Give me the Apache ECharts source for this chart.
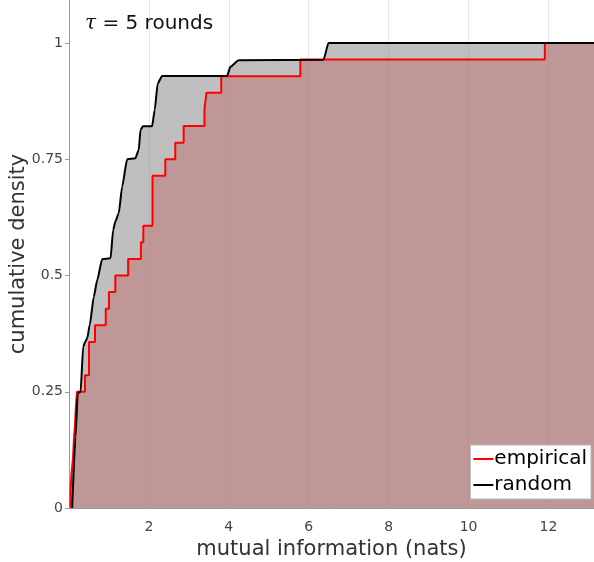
<!DOCTYPE html>
<html>
<head>
<meta charset="utf-8">
<script src="https://cdn.jsdelivr.net/npm/echarts@6/dist/echarts.min.js"></script>
<style>
  html, body { margin: 0; padding: 0; background: #fff; }
  #chart { width: 594px; height: 562px; }
</style>
</head>
<body>
<div id="chart"></div>
<script>
// observed mutual information values (one per pair), sorted
var empiricalMI = [0.04, 0.06, 0.10, 0.12, 0.15, 0.17, 0.20, 0.40, 0.50, 0.50,
    0.65, 0.92, 1.00, 1.16, 1.48, 1.80, 1.86, 2.09, 2.09, 2.09,
    2.41, 2.66, 2.87, 3.39, 3.44, 3.81, 5.79, 11.91];

// random baseline CDF
var randomX = [0.08, 0.163, 0.22, 0.29, 0.355, 0.41, 0.455, 0.52, 0.62, 0.705,
    0.83, 1.04, 1.105, 1.16, 1.245, 1.33, 1.455, 1.66, 1.745, 1.79,
    1.855, 2.08, 2.145, 2.22, 2.33, 3.955, 4.04, 4.245, 6.37, 6.495, 13.14];
var randomY = [0, 0.153, 0.247, 0.25, 0.347, 0.358, 0.365, 0.394, 0.454, 0.49,
    0.535, 0.537, 0.598, 0.616, 0.634, 0.691, 0.75, 0.752, 0.77, 0.813,
    0.821, 0.821, 0.856, 0.913, 0.929, 0.929, 0.949, 0.963, 0.964, 1, 1];

var xTicks = [2, 4, 6, 8, 10, 12];
var yTicks = [0, 0.25, 0.5, 0.75, 1];
var xMax = 13.14;

// empirical CDF steps
var n = empiricalMI.length;
var empData = [[empiricalMI[0], 0]];
empiricalMI.forEach(function (v, i) {
    empData.push([v, (i + 1) / n]);
});
empData.push([xMax, 1]);

var randData = randomX.map(function (x, i) { return [x, randomY[i]]; });

var font = 'DejaVu Sans';
var chart = echarts.init(document.getElementById('chart'));
chart.setOption({
    animation: false,
    title: {
        text: '{t|τ} = 5 rounds',
        left: 80,
        top: 9,
        textStyle: {
            fontFamily: font,
            fontSize: 20,
            fontWeight: 'normal',
            color: '#111',
            rich: {
                t: {fontFamily: 'DejaVu Serif', fontStyle: 'italic', fontSize: 20, color: '#111'}
            }
        }
    },
    legend: {
        right: 3,
        bottom: 63,
        orient: 'vertical',
        backgroundColor: '#fff',
        borderColor: '#bbb',
        borderWidth: 1,
        padding: [4, 4, 4, 2],
        itemGap: 6,
        itemWidth: 20,
        itemHeight: 2,
        textStyle: {fontFamily: font, fontSize: 20, color: '#000', padding: [0, 0, 0, -4]},
        data: ['empirical', 'random']
    },
    grid: {left: 69, right: 0, top: 0, bottom: 54, outerBoundsMode: 'none', containLabel: false},
    xAxis: {
        type: 'value',
        min: 0,
        max: xMax,
        interval: 2,
        name: 'mutual information (nats)',
        nameLocation: 'middle',
        nameGap: 31,
        nameMoveOverlap: false,
        nameTextStyle: {fontFamily: font, fontSize: 21, color: '#333'},
        axisLine: {lineStyle: {color: '#999'}},
        axisTick: {show: false},
        axisLabel: {
            fontFamily: font, fontSize: 14, color: '#444', margin: 12,
            formatter: function (v) { return xTicks.indexOf(v) >= 0 ? String(v) : ''; }
        },
        splitLine: {show: true, lineStyle: {color: '#e6e6e6', width: 1}}
    },
    yAxis: {
        type: 'value',
        min: 0,
        max: 1.0925,
        interval: 0.25,
        name: 'cumulative density',
        nameLocation: 'middle',
        nameGap: 40,
        nameMoveOverlap: false,
        nameTextStyle: {fontFamily: font, fontSize: 21, color: '#333'},
        axisLine: {show: true, lineStyle: {color: '#999'}},
        axisTick: {show: true, length: 4, customValues: yTicks, lineStyle: {color: '#999'}},
        axisLabel: {
            fontFamily: font, fontSize: 14, color: '#444', margin: 6,
            customValues: yTicks,
            formatter: function (v) { return yTicks.indexOf(v) >= 0 ? String(v) : ''; }
        },
        splitLine: {show: false}
    },
    series: [
        {
            type: 'line',
            data: randData,
            smooth: 0.2,
            smoothMonotone: 'x',
            showSymbol: false,
            lineStyle: {width: 0},
            areaStyle: {color: 'rgba(128,128,128,0.5)', opacity: 1},
            z: 1,
            silent: true
        },
        {
            type: 'line',
            data: empData,
            step: 'end',
            showSymbol: false,
            lineStyle: {width: 0},
            areaStyle: {color: 'rgba(191,101,101,0.45)', opacity: 1},
            z: 2,
            silent: true
        },
        {
            name: 'empirical',
            type: 'line',
            data: empData,
            step: 'end',
            showSymbol: false,
            symbol: 'none',
            color: '#ff0000',
            lineStyle: {color: '#ff0000', width: 2},
            z: 3
        },
        {
            name: 'random',
            type: 'line',
            data: randData,
            smooth: 0.2,
            smoothMonotone: 'x',
            showSymbol: false,
            symbol: 'none',
            color: '#000',
            lineStyle: {color: '#000', width: 2},
            z: 4
        }
    ]
});
</script>
</body>
</html>
